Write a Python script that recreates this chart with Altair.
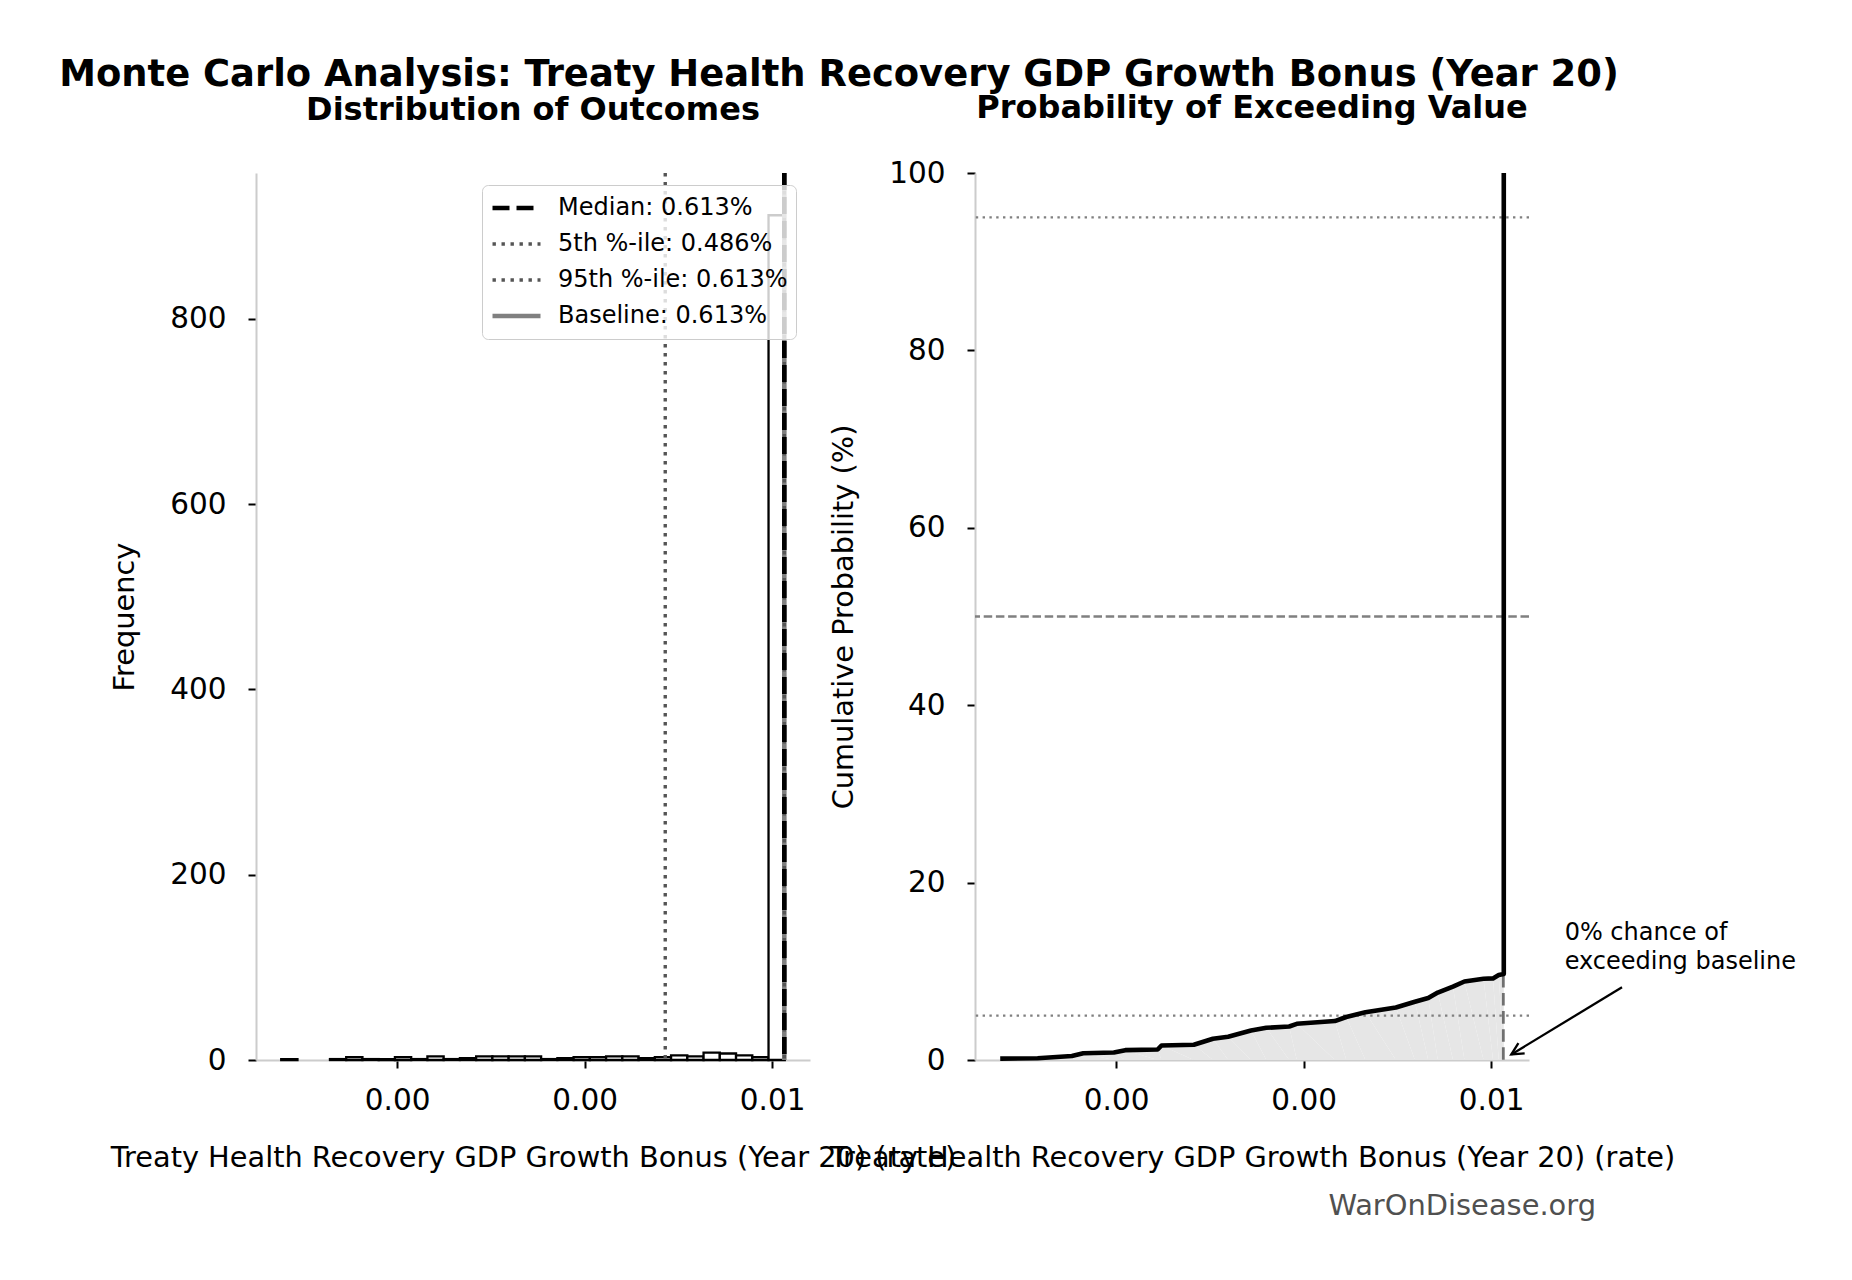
import altair as alt
import numpy as np
import pandas as pd

FONT = "DejaVu Sans"
X_TITLE = "Treaty Health Recovery GDP Growth Bonus (Year 20) (rate)"

# Simulated outcome range and histogram counts (31 equal-width bins)
sample_min = 0.000764
sample_max = 0.006135
bin_counts = [1, 0, 0, 1, 3, 1, 1, 3, 1, 4, 1, 2, 4, 4, 4, 4,
              1, 2, 3, 3, 4, 4, 2, 3, 5, 4, 8, 7, 5, 3, 912]

# Reference lines on the distribution panel (legend order)
ref_labels = ["Median: 0.613%", "5th %-ile: 0.486%", "95th %-ile: 0.613%", "Baseline: 0.613%"]
ref_values = [0.00613, 0.00486, 0.00613, 0.00613]

# Cumulative probability curve (value, % of runs at or below it)
curve_values = [0.000764, 0.001163, 0.001528, 0.001650, 0.001976, 0.002098,
                0.002443, 0.002484, 0.002829, 0.003033, 0.003195, 0.003439,
                0.003602, 0.003846, 0.003927, 0.004333, 0.004455, 0.004659,
                0.004984, 0.005187, 0.005329, 0.005431, 0.005593, 0.005715,
                0.005919, 0.006020, 0.006081, 0.006135, 0.006135]
curve_pct = [0.15, 0.2, 0.46, 0.76, 0.84, 1.11, 1.18, 1.64, 1.72, 2.40, 2.63,
             3.32, 3.63, 3.78, 4.08, 4.39, 4.85, 5.38, 5.92, 6.56, 6.98, 7.60,
             8.28, 8.85, 9.16, 9.20, 9.58, 9.70, 100.0]

baseline_value = 0.00613
baseline_pct = 9.6
dotted_levels = [95, 5]
dashed_levels = [50]

note_text = "0% chance of\nexceeding baseline"
note_x, note_y = 0.006784, 14.3
arrow_from = (0.007396, 8.2)
arrow_to = (0.006215, 0.62)

x_domain = [0.000495, 0.006404]
x_ticks = [0.002, 0.004, 0.006]

PANEL_W, PANEL_H = 554, 887

# ---------- data tables ----------
edges = np.linspace(sample_min, sample_max, len(bin_counts) + 1)
hist = pd.DataFrame({"start": edges[:-1], "end": edges[1:], "count": bin_counts,
                     "floor": 0})
hist = hist[hist["count"] > 0]

refs = pd.DataFrame({"label": ref_labels, "value": ref_values})
refs = refs.iloc[[3, 2, 1, 0]]  # draw baseline first, median on top

curve = pd.DataFrame({"value": curve_values, "pct": curve_pct,
                      "idx": range(len(curve_values))})
fill = curve.iloc[:-1]

x_scale = alt.Scale(domain=x_domain, nice=False, zero=False)


def x_enc(field):
    return alt.X(field, type="quantitative", scale=x_scale,
                 axis=alt.Axis(values=x_ticks, format=".2f", title=X_TITLE))


def panel_title(text, offset):
    return alt.TitleParams(text, anchor="middle", frame="group", font=FONT,
                           fontSize=32, fontWeight="bold", color="black",
                           offset=offset, baseline="alphabetic")


# ---------- left: distribution ----------
freq_y = alt.Y("count:Q", scale=alt.Scale(domain=[0, 957.6], nice=False),
               axis=alt.Axis(values=[0, 200, 400, 600, 800], title="Frequency"))

bars = alt.Chart(hist).mark_rect(fill="white", stroke="black", strokeWidth=2.3).encode(
    x=x_enc("start"), x2="end:Q", y=freq_y, y2="floor:Q"
)

legend_kw = dict(
    title=None, orient="none", legendX=226, legendY=12, symbolType="stroke",
    symbolSize=2304, clipHeight=30, rowPadding=6, labelFont=FONT, labelFontSize=24,
    labelColor="black", labelLimit=500, labelOffset=15, padding=8,
    fillColor="rgba(255,255,255,0.8)", strokeColor="#cccccc", cornerRadius=6,
)

rules = alt.Chart(refs).mark_rule().encode(
    x=x_enc("value"),
    color=alt.Color("label:N", sort=ref_labels,
                    scale=alt.Scale(domain=ref_labels,
                                    range=["black", "#555555", "#555555", "#808080"]),
                    legend=alt.Legend(**legend_kw)),
    strokeDash=alt.StrokeDash("label:N", sort=ref_labels,
                              scale=alt.Scale(domain=ref_labels,
                                              range=[[17, 7], [3.4, 5.6], [3.4, 5.6], [1, 0]]),
                              legend=alt.Legend(**legend_kw)),
    strokeWidth=alt.StrokeWidth("label:N", sort=ref_labels,
                                scale=alt.Scale(type="ordinal", domain=ref_labels,
                                                range=[4.6, 3.4, 3.4, 4.6]),
                                legend=alt.Legend(**legend_kw)),
)

left = alt.layer(bars, rules).properties(
    width=PANEL_W, height=PANEL_H,
    title=panel_title("Distribution of Outcomes", 19),
)

# ---------- right: cumulative probability ----------
pct_y = alt.Y("pct:Q", scale=alt.Scale(domain=[0, 100], nice=False),
              axis=alt.Axis(values=[0, 20, 40, 60, 80, 100], format="d",
                            title="Cumulative Probability (%)"))

area = alt.Chart(fill).mark_area(color="#e6e6e6").encode(
    x=x_enc("value"), y=pct_y, order="idx:Q"
)

dotted = alt.Chart(pd.DataFrame({"pct": dotted_levels})).mark_rule(
    color="#808080", strokeWidth=2.3, strokeDash=[2.4, 4.4]
).encode(y="pct:Q")

dashed = alt.Chart(pd.DataFrame({"pct": dashed_levels})).mark_rule(
    color="#808080", strokeWidth=2.3, strokeDash=[8.5, 3.7]
).encode(y="pct:Q")

base_df = pd.DataFrame({"value": [baseline_value], "pct": [baseline_pct], "floor": [0.0]})
base_line = alt.Chart(base_df).mark_rule(
    color="#707070", strokeWidth=2.8, strokeDash=[12.6, 5.5]
).encode(x=x_enc("value"), y="pct:Q", y2="floor:Q")

line = alt.Chart(curve).mark_line(color="black", strokeWidth=4.6, strokeJoin="round").encode(
    x=x_enc("value"), y=pct_y, order="idx:Q"
)

note = alt.Chart(pd.DataFrame({"value": [note_x], "pct": [note_y], "text": [note_text]})).mark_text(
    align="left", baseline="middle", font=FONT, fontSize=24, color="black",
    lineBreak="\n", lineHeight=28.6
).encode(x=x_enc("value"), y="pct:Q", text="text:N")

arrow_df = pd.DataFrame({"x0": [arrow_from[0]], "y0": [arrow_from[1]],
                         "x1": [arrow_to[0]], "y1": [arrow_to[1]]})
arrow = alt.Chart(arrow_df).mark_rule(color="black", strokeWidth=2.3).encode(
    x=x_enc("x0"), y="y0:Q", x2="x1:Q", y2="y1:Q"
)
arrow_head = alt.Chart(arrow_df).mark_point(
    shape="M-1,-0.5L0,0L-1,0.5", size=576, angle=148.7, filled=False,
    color="black", strokeWidth=2.3, opacity=1
).encode(x=x_enc("x1"), y="y1:Q")

mark_site = alt.Chart(pd.DataFrame({"text": ["WarOnDisease.org"]})).mark_text(
    align="right", baseline="middle", font=FONT, fontSize=28.9, color="#505050"
).encode(x=alt.value(621), y=alt.value(1033), text="text:N")

right = alt.layer(area, dotted, dashed, base_line, line, note, arrow, arrow_head, mark_site).properties(
    width=PANEL_W, height=PANEL_H,
    title=panel_title("Probability of Exceeding Value", 7.6),
)

chart = alt.hconcat(left, right, spacing=165, bounds="flush").properties(
    title=alt.TitleParams(
        "Monte Carlo Analysis: Treaty Health Recovery GDP Growth Bonus (Year 20)",
        anchor="start", dx=-51, font=FONT, fontSize=36.9, fontWeight="bold",
        color="black", offset=-30.9, baseline="alphabetic"),
    padding={"left": 59, "top": 56, "right": 10, "bottom": 10},
    background="white",
).configure_view(stroke=None).configure_axis(
    domainColor="#cccccc", domainWidth=2, tickColor="black", tickWidth=2, tickSize=8,
    labelFont=FONT, labelFontSize=29.5, labelColor="black", titleFont=FONT,
    titleFontSize=28.8, titleFontWeight="normal", titleColor="black", grid=False,
).configure_axisX(labelPadding=18, titlePadding=28.5).configure_axisY(
    labelPadding=22, titlePadding=30.5)

chart.save("out.html", embed_options={"renderer": "svg", "actions": False})
